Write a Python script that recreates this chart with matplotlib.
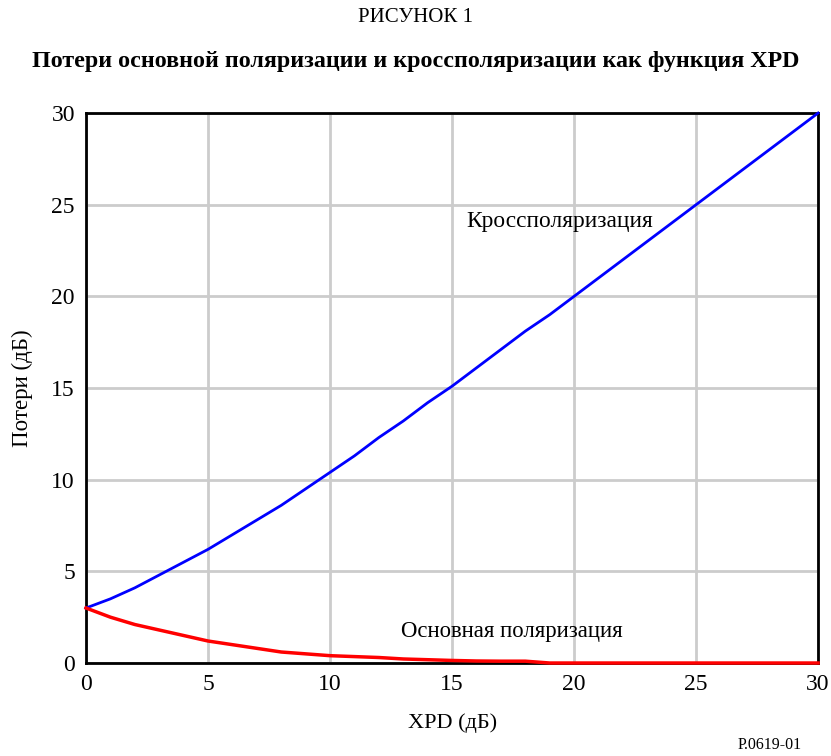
import matplotlib
matplotlib.use('Agg')
import matplotlib.pyplot as plt

plt.rcParams['font.family'] = ['Liberation Serif', 'DejaVu Serif']

# XPD values (dB) and losses
xpd = list(range(0, 31))
cross_loss = [3.0, 3.5, 4.1, 4.8, 5.5, 6.2, 7.0, 7.8, 8.6, 9.5, 10.4,
              11.3, 12.3, 13.2, 14.2, 15.1, 16.1, 17.1, 18.1, 19.0, 20.0,
              21.0, 22.0, 23.0, 24.0, 25.0, 26.0, 27.0, 28.0, 29.0, 30.0]
co_loss = [3.0, 2.5, 2.1, 1.8, 1.5, 1.2, 1.0, 0.8, 0.6, 0.5, 0.4,
           0.35, 0.3, 0.22, 0.18, 0.14, 0.11, 0.1, 0.1, 0.0, 0.0,
           0.0, 0.0, 0.0, 0.0, 0.0, 0.0, 0.0, 0.0, 0.0, 0.0]
ticks = [0, 5, 10, 15, 20, 25, 30]

fig = plt.figure(figsize=(8.31, 7.56), dpi=100)
ax = fig.add_axes([0.1035, 0.123, 0.881, 0.7275])

ax.plot(xpd, cross_loss, color='#0000ff', lw=2, clip_on=False, zorder=5)
ax.plot(xpd, co_loss, color='#ff0000', lw=2.5, clip_on=False, zorder=5)

ax.set_xlim(0, 30)
ax.set_ylim(0, 30)
ax.set_xticks(ticks)
ax.set_yticks(ticks)
ax.tick_params(length=0, labelsize=17, pad=8)
ax.grid(True, color='#cccccc', lw=2)
ax.set_axisbelow(True)
for s in ax.spines.values():
    s.set_linewidth(2)
    s.set_color('black')

ax.set_xlabel('XPD (дБ)', fontsize=16, labelpad=13)
ax.set_ylabel('Потери (дБ)', fontsize=16.5, labelpad=13)

ax.text(15.6, 24.1, 'Кроссполяризация', fontsize=16.8, va='center', ha='left')
ax.text(12.9, 1.7, 'Основная поляризация', fontsize=16.4, va='center', ha='left')

fig.text(0.5, 0.977, 'РИСУНОК 1', fontsize=15, ha='center', va='center')
fig.text(0.5, 0.919, 'Потери основной поляризации и кроссполяризации как функция XPD',
         fontsize=17.3, fontweight='bold', ha='center', va='center')
fig.text(0.965, 0.015, 'P.0619-01', fontsize=11.5, ha='right', va='center')

fig.savefig('out.png', dpi=100)
